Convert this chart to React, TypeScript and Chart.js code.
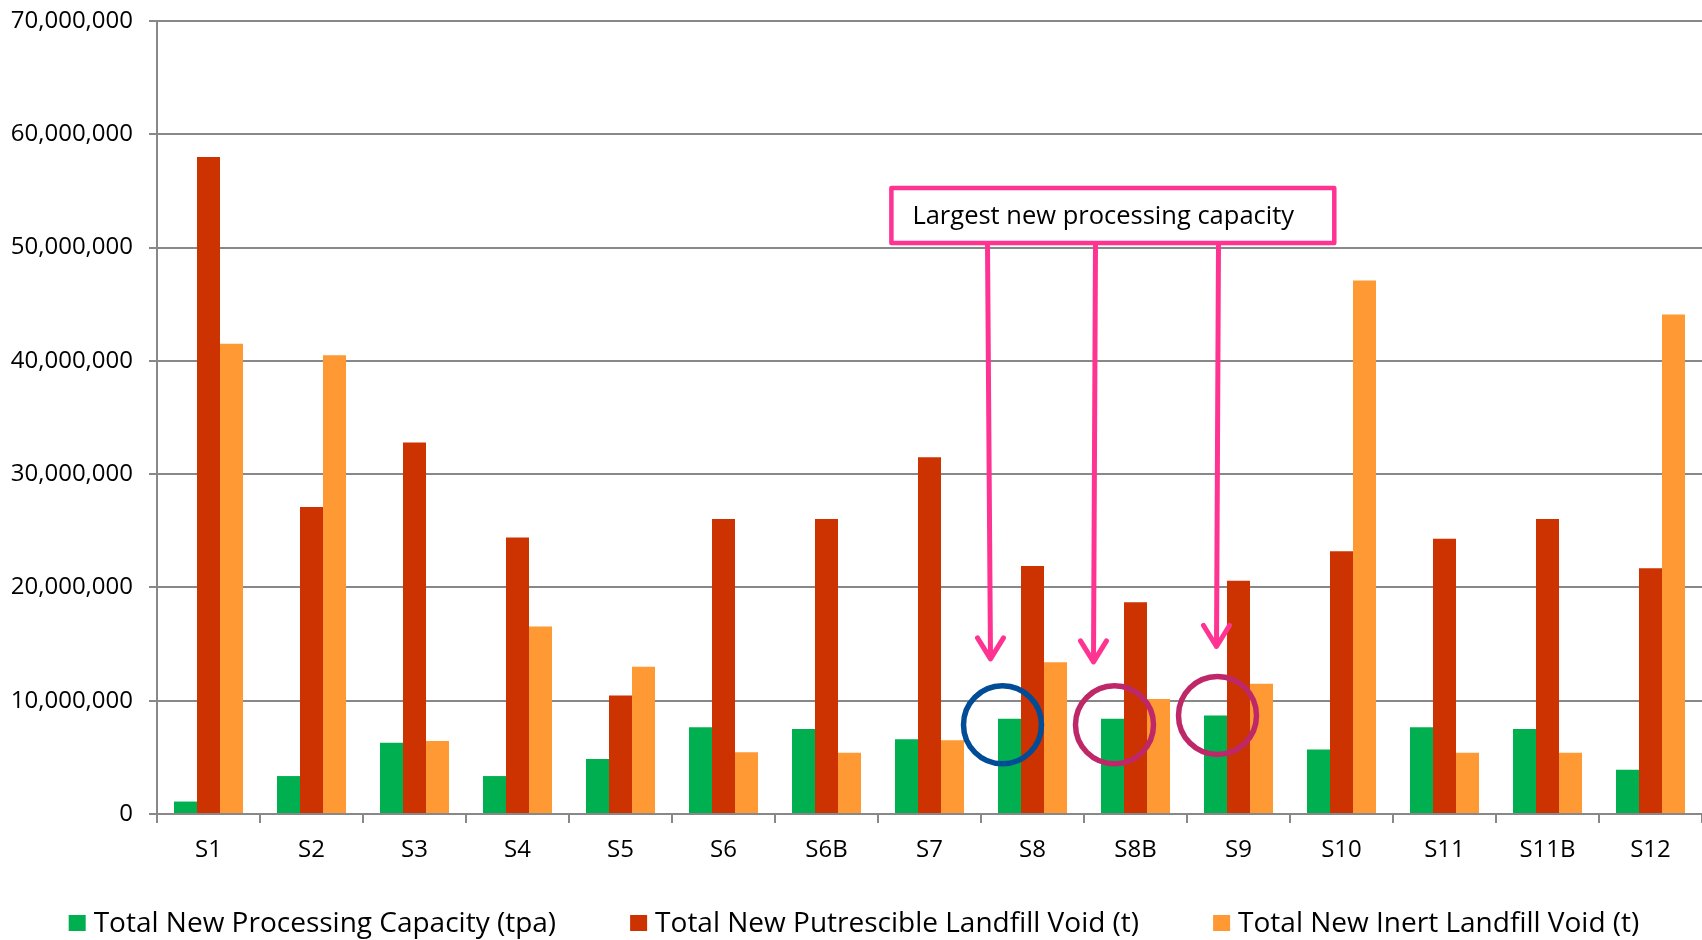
import React, { useEffect, useRef } from "react";
import { Chart, registerables } from "chart.js";

Chart.register(...registerables);

// Sites along the category axis
const categories = ["S1", "S2", "S3", "S4", "S5", "S6", "S6B", "S7", "S8", "S8B", "S9", "S10", "S11", "S11B", "S12"];

// Total New Processing Capacity (tpa)
const processingCapacity = [1100000, 3350000, 6300000, 3350000, 4850000, 7650000, 7500000, 6600000, 8400000, 8400000, 8700000, 5700000, 7650000, 7500000, 3900000];

// Total New Putrescible Landfill Void (t)
const putrescibleVoid = [58000000, 27100000, 32800000, 24400000, 10450000, 26050000, 26050000, 31500000, 21900000, 18700000, 20600000, 23200000, 24300000, 26050000, 21700000];

// Total New Inert Landfill Void (t)
const inertVoid = [41500000, 40500000, 6450000, 16550000, 13000000, 5450000, 5400000, 6500000, 13400000, 10150000, 11500000, 47100000, 5400000, 5400000, 44100000];

const seriesLabels = [
  "Total New Processing Capacity (tpa)",
  "Total New Putrescible Landfill Void (t)",
  "Total New Inert Landfill Void (t)",
];
const seriesColors = ["#00B050", "#CC3300", "#FF9933"];

const yTicks = [0, 10000000, 20000000, 30000000, 40000000, 50000000, 60000000, 70000000];

// Callout pointing at the sites with the largest new processing capacity
const calloutText = "Largest new processing capacity";
const highlightedSites = ["S8", "S8B", "S9"];

const FONT = "'Open Sans', 'Noto Sans', sans-serif";
const PINK = "#FF3392";

type Pt = { x: number; y: number };

const calloutPlugin = {
  id: "callout",
  afterDatasetsDraw(chart: any) {
    const { ctx, scales } = chart;
    const xs = scales.x;
    const ys = scales.y;
    const meta = chart.getDatasetMeta(0);

    // callout box spans from between S6B/S7 to the S9/S10 boundary, just above 50M
    const bx0 = xs.getPixelForValue(6.63);
    const bx1 = xs.getPixelForValue(10.93);
    const by0 = ys.getPixelForValue(55250000);
    const by1 = ys.getPixelForValue(50400000);

    const ringColors = ["#004C97", "#BE2869", "#BE2869"];
    const ringShift = [
      { dx: -7, dy: 6 },
      { dx: 2, dy: 6 },
      { dx: 2, dy: 0 },
    ];
    const tipShift = [
      { dx: -19, dy: -60, sx: -3 },
      { dx: -19, dy: -57, sx: 2 },
      { dx: 1, dy: -69, sx: 2 },
    ];

    ctx.save();
    highlightedSites.forEach((site, i) => {
      const idx = categories.indexOf(site);
      const bar = meta.data[idx];
      if (!bar) return;
      const { x, y } = bar.getProps(["x", "y"], true);

      // ring around the top of the processing-capacity bar
      ctx.beginPath();
      ctx.ellipse(x + ringShift[i].dx, y + ringShift[i].dy, 39, 39, 0, 0, Math.PI * 2);
      ctx.lineWidth = 5.5;
      ctx.strokeStyle = ringColors[i];
      ctx.stroke();

      // arrow from the box down towards the bar
      const tip: Pt = { x: x + tipShift[i].dx, y: y + tipShift[i].dy };
      const start: Pt = { x: tip.x + tipShift[i].sx, y: by1 };
      ctx.beginPath();
      ctx.moveTo(start.x, start.y);
      ctx.lineTo(tip.x, tip.y);
      ctx.moveTo(tip.x - 13, tip.y - 21);
      ctx.lineTo(tip.x, tip.y);
      ctx.lineTo(tip.x + 13, tip.y - 21);
      ctx.lineWidth = 5;
      ctx.lineCap = "round";
      ctx.lineJoin = "round";
      ctx.strokeStyle = PINK;
      ctx.stroke();
    });

    // callout box
    ctx.fillStyle = "#fff";
    ctx.fillRect(bx0, by0, bx1 - bx0, by1 - by0);
    ctx.lineWidth = 4.5;
    ctx.lineJoin = "round";
    ctx.strokeStyle = PINK;
    ctx.strokeRect(bx0, by0, bx1 - bx0, by1 - by0);

    ctx.fillStyle = "#000";
    ctx.font = `25.5px ${FONT}`;
    ctx.textBaseline = "middle";
    ctx.textAlign = "left";
    ctx.fillText(calloutText, bx0 + 21, (by0 + by1) / 2 + 1);
    ctx.restore();
  },
};

const legendPlugin = {
  id: "bottomLegend",
  afterDraw(chart: any) {
    const { ctx, width } = chart;
    const datasets = chart.data.datasets;
    const boxW = 17;
    const boxH = 16;
    const boxGap = 8;
    const itemGap = 74;
    const y = 923;
    ctx.save();
    ctx.font = `28px ${FONT}`;
    const widths = datasets.map((d: any) => ctx.measureText(d.label).width);
    const total =
      widths.reduce((s: number, w: number) => s + boxW + boxGap + w, 0) + itemGap * (datasets.length - 1);
    let x = (width - total) / 2 + 3;
    datasets.forEach((d: any, i: number) => {
      ctx.fillStyle = d.backgroundColor;
      ctx.fillRect(x, y - boxH / 2, boxW, boxH);
      ctx.fillStyle = "#000";
      ctx.textBaseline = "middle";
      ctx.textAlign = "left";
      ctx.fillText(d.label, x + boxW + boxGap, y + 1);
      x += boxW + boxGap + widths[i] + itemGap;
    });
    ctx.restore();
  },
};

export default function App() {
  const canvasRef = useRef<HTMLCanvasElement>(null);

  useEffect(() => {
    if (!canvasRef.current) return;
    const chart = new Chart(canvasRef.current, {
      type: "bar",
      data: {
        labels: categories,
        datasets: [processingCapacity, putrescibleVoid, inertVoid].map((values, i) => ({
          label: seriesLabels[i],
          data: values,
          backgroundColor: seriesColors[i],
          borderWidth: 0,
          categoryPercentage: 0.67,
          barPercentage: 1,
        })),
      },
      options: {
        animation: false,
        responsive: false,
        devicePixelRatio: 1,
        layout: { padding: { top: 21, left: 0, right: 0, bottom: 0 } },
        plugins: {
          legend: { display: false },
          tooltip: { enabled: false },
        },
        scales: {
          x: {
            grid: {
              display: true,
              drawOnChartArea: false,
              drawTicks: true,
              tickLength: 9,
              offset: true,
              color: "#888",
              lineWidth: 2,
            },
            border: { color: "#888", width: 2 },
            ticks: {
              color: "#000",
              font: { family: FONT, size: 24 },
              padding: 13,
              maxRotation: 0,
              autoSkip: false,
            },
            afterFit: (s: any) => {
              s.height = 126;
              s.paddingLeft = 0;
              s.paddingRight = 0;
            },
          },
          y: {
            min: 0,
            max: 70000000,
            afterBuildTicks: (s: any) => {
              s.ticks = yTicks.map((v) => ({ value: v }));
            },
            ticks: {
              color: "#000",
              font: { family: FONT, size: 24 },
              padding: 16,
              callback: (v: any) => Number(v).toLocaleString("en-US"),
            },
            grid: { color: "#888", lineWidth: 2, tickLength: 8 },
            border: { color: "#888", width: 2 },
            afterFit: (s: any) => {
              s.width = 157;
              s.paddingTop = 0;
              s.paddingBottom = 0;
            },
          },
        },
      },
      plugins: [calloutPlugin, legendPlugin],
    });
    return () => chart.destroy();
  }, []);

  return (
    <div style={{ position: "absolute", left: 0, top: 0, width: 1702, height: 940, background: "#fff" }}>
      <canvas ref={canvasRef} width={1702} height={940} style={{ display: "block", width: 1702, height: 940 }} />
    </div>
  );
}
